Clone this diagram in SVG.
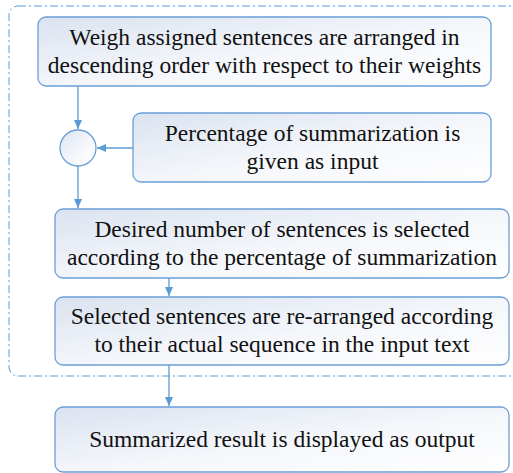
<svg xmlns="http://www.w3.org/2000/svg" width="513" height="473" viewBox="0 0 513 473">
<defs>
<linearGradient id="g" x1="0" y1="0" x2="1" y2="1">
<stop offset="0" stop-color="#dbe3f0"/>
<stop offset="0.55" stop-color="#f5f7fb"/>
<stop offset="1" stop-color="#ffffff"/>
</linearGradient>
<marker id="a" markerWidth="10" markerHeight="10" refX="9" refY="5" orient="auto" markerUnits="userSpaceOnUse">
<path d="M0,1 L9,5 L0,9 Z" fill="#5b9bd5"/>
</marker>
</defs>
<style>
.box{fill:url(#g);stroke:#6a9fd6;stroke-width:1.3}
.t{font-family:'Liberation Serif','Times New Roman',serif;font-size:23.5px;fill:#111;text-anchor:middle}
.c{stroke:#5b9bd5;stroke-width:1.3;fill:none}
.frame{fill:none;stroke:#5b9bd5;stroke-width:1;stroke-dasharray:8,3,2,3}
</style>
<rect class="frame" x="9" y="6" width="520" height="370" rx="9"/>
<g id="n1"><rect class="box" x="38" y="17" width="453" height="69" rx="8"/>
<text class="t" x="264.5" y="45">Weigh assigned sentences are arranged in</text>
<text class="t" x="264.5" y="73">descending order with respect to their weights</text></g>
<g id="merge"><circle class="box" cx="78" cy="148" r="18"/></g>
<g id="n2"><rect class="box" x="133" y="113" width="358" height="69" rx="8"/>
<text class="t" x="312.5" y="141">Percentage of summarization is</text>
<text class="t" x="312.5" y="169">given as input</text></g>
<g id="n3"><rect class="box" x="55" y="209" width="454" height="69" rx="8"/>
<text class="t" x="282" y="237">Desired number of sentences is selected</text>
<text class="t" x="282" y="265">according to the percentage of summarization</text></g>
<g id="n4"><rect class="box" x="55" y="297" width="454" height="68" rx="8"/>
<text class="t" x="282" y="324">Selected sentences are re-arranged according</text>
<text class="t" x="282" y="352">to their actual sequence in the input text</text></g>
<g id="n5"><rect class="box" x="55" y="407" width="454" height="65" rx="8"/>
<text class="t" x="282" y="447">Summarized result is displayed as output</text></g>
<g id="connectors">
<line class="c" x1="78" y1="86" x2="78" y2="129" marker-end="url(#a)"/>
<line class="c" x1="133" y1="148" x2="97" y2="148" marker-end="url(#a)"/>
<line class="c" x1="78" y1="166" x2="78" y2="208" marker-end="url(#a)"/>
<line class="c" x1="169" y1="278" x2="169" y2="296" marker-end="url(#a)"/>
<line class="c" x1="169" y1="365" x2="169" y2="406" marker-end="url(#a)"/>
</g>
</svg>
